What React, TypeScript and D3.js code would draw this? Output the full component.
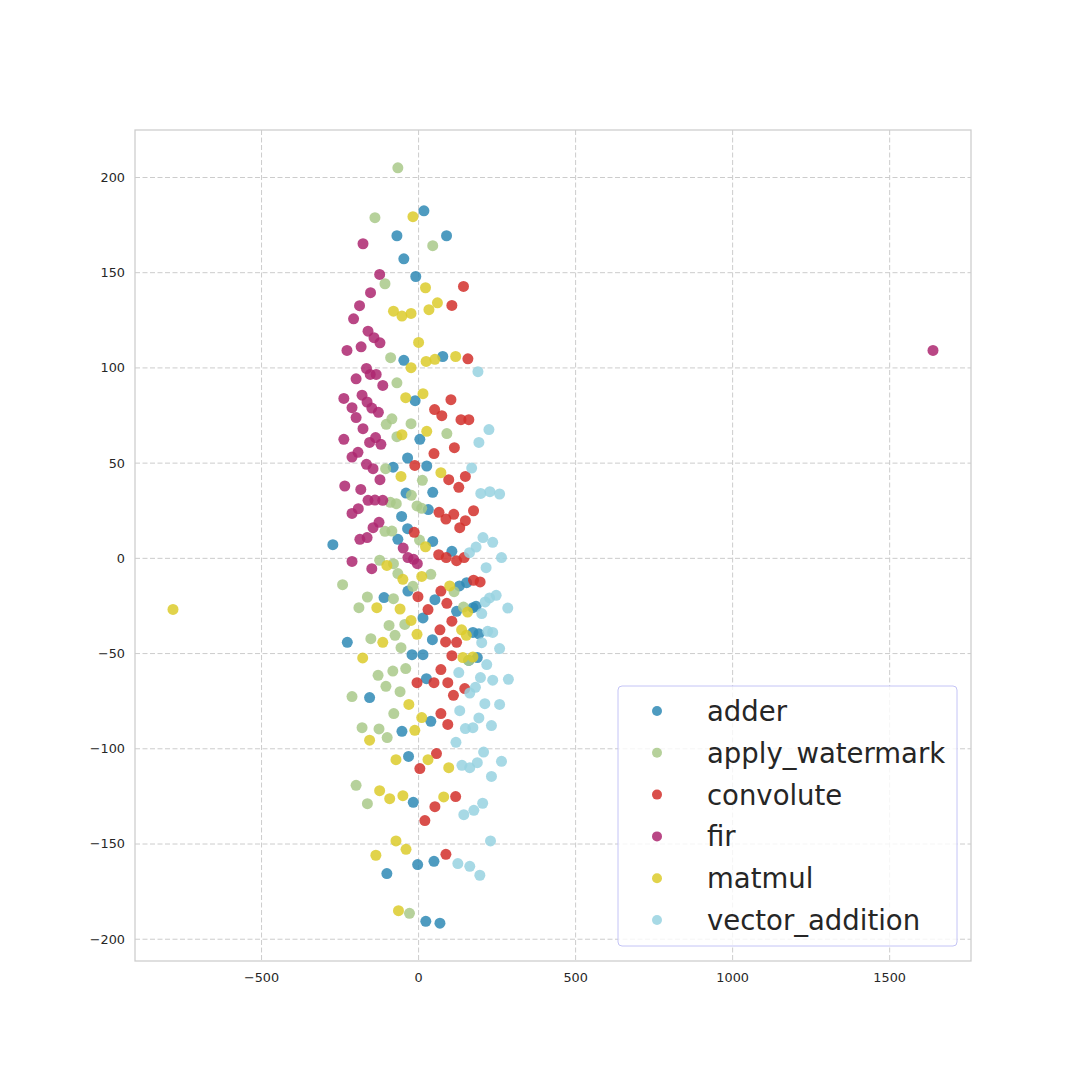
import React from "react";
import * as d3 from "d3";

const categories = ["adder", "apply_watermark", "convolute", "fir", "matmul", "vector_addition"];
const colors = ["#2f8ab5", "#a9c98a", "#d2302c", "#ad2770", "#dccb2c", "#98d2e1"];

const adderX = [17, -69, 89, -47, -9, -47, 77, -11, 4, -35, -81, 26, -40, 45, 31, -54, -35, -66, 45, -273, 106, 130, 153, -34, -110, 52, 173, 183, 121, 14, 173, 192, 44, -227, -21, 14, 160, 187, 25, -156, 39, -53, -32, -17, -3, 49, -101, 23, 68];
const adderY = [182.5, 169.4, 169.4, 157.3, 148, 104, 106, 82.8, 62.5, 52.7, 47.9, 48.5, 34.3, 34.7, 25.6, 22, 15.6, 10, 8.9, 7.2, 3.7, -14.5, -12.8, -17.2, -20.6, -21.7, -25.9, -25.2, -27.8, -31.3, -38.9, -39.6, -42.7, -44.1, -50.6, -50.6, -53.6, -52.1, -63.2, -73.1, -85.6, -90.8, -104, -128.1, -160.8, -159.1, -165.5, -190.6, -191.6];

const waterX = [-66, -139, 45, -107, -89, -69, -85, -103, -24, 90, -69, -105, 12, -23, -90, -71, -5, 10, -107, -85, 3, -124, -80, -66, 39, -242, 113, -18, -163, -80, 143, -190, -44, -94, -75, -152, -56, 159, -129, -82, -41, -104, -59, -212, -79, -180, -126, -100, -199, -163, -29];
const waterY = [205.1, 178.9, 164.2, 144.2, 105.4, 92.2, 73.3, 70.4, 70.7, 65.5, 63.9, 47.1, 41, 33.1, 29.4, 28.7, 27.5, 26.3, 14.2, 14.3, 9.6, -1, -2.8, -8, -8.4, -13.8, -17.5, -14.7, -20.3, -21.2, -25.6, -25.9, -34.7, -35.2, -40.4, -42.2, -46.9, -53.6, -61.4, -59.2, -57.9, -67.2, -70, -72.6, -81.5, -88.9, -89.6, -94.1, -119.2, -128.8, -186.4];

const convX = [143, 106, 157, 103, 51, 74, 135, 160, 49, 114, -12, 96, 149, 128, 65, 87, 112, 149, 175, 131, -14, 64, 88, 121, 145, 175, 196, 71, -2, 90, 30, 106, 68, 86, 121, 106, 71, -5, 49, 93, 147, 111, 71, 93, 57, 4, 118, 52, 20, 87];
const convY = [142.8, 132.8, 104.8, 83.3, 78.1, 74.9, 72.8, 72.8, 55, 58.1, 48.8, 41.3, 43, 37.3, 24.2, 20.6, 23.1, 19.8, 25, 16.1, 13.7, 1.9, 0.4, -1.2, 0.4, -11.5, -12.4, -17.2, -20.1, -23.6, -26.9, -33, -37.5, -43.9, -44.1, -51.1, -58.4, -65.3, -65.3, -65.3, -68.4, -71.9, -81.5, -87.2, -102.5, -110.4, -125.1, -130.4, -137.7, -155.4];

const firX = [-177, -124, -153, -188, -207, -161, -142, -123, -228, -183, -166, -154, -135, -199, -114, -238, -180, -164, -149, -128, -212, -199, -177, -238, -156, -137, -120, -193, -212, -166, -145, -235, -184, -123, -161, -139, -114, -212, -192, -126, -145, -164, -187, -49, -34, -16, -4, -212, -149, 1638];
const firY = [165.2, 149.1, 139.5, 132.7, 125.8, 119.3, 115.9, 113.2, 109.2, 111.1, 99.7, 96.6, 96.6, 94.3, 90.8, 84, 85.7, 82.1, 78.9, 76.7, 79.1, 73.9, 68.1, 62.5, 60.9, 63.4, 59.9, 55.7, 53.2, 49.4, 47.1, 38, 36.2, 41.3, 30.5, 30.6, 30.5, 23.6, 26.1, 18.9, 16.1, 10.9, 10, 5.4, 0.4, -0.5, -2.8, -1.6, -5.4, 109.2];

const matX = [-18, 22, 60, -80, -53, -24, 33, 0, 24, 52, 118, -24, -41, 14, 26, -53, -56, 71, 22, -101, -50, 10, 99, 156, -133, -59, -24, 137, 152, -5, -114, -178, 141, 173, -31, 10, -12, -156, -72, 30, 96, -124, -92, -50, 80, -72, -40, -136, -64, -782];
const matY = [179.4, 142.1, 134.2, 129.8, 127.2, 128.6, 130.6, 113.4, 103.4, 104.5, 106, 100.1, 84.4, 86.5, 66.7, 64.9, 43, 45, 6.1, -3.7, -11, -9.5, -14.5, -28.2, -25.9, -26.6, -32.6, -37.5, -40.4, -39.9, -44.1, -52.3, -52.1, -51.8, -76.7, -83.6, -90.3, -95.5, -105.7, -105.7, -109.9, -122, -126.2, -124.6, -125.3, -148.4, -152.8, -155.9, -185, -26.8];

const vecX = [189, 224, 192, 169, 198, 227, 258, 205, 236, 183, 162, 264, 215, 247, 226, 212, 201, 284, 220, 236, 201, 258, 217, 128, 197, 236, 286, 181, 163, 211, 258, 131, 192, 232, 149, 173, 119, 207, 138, 163, 187, 264, 232, 204, 176, 144, 229, 125, 163, 195];
const vecY = [98, 67.6, 60.9, 47.4, 34.1, 35, 33.8, 10.9, 8.4, 5.9, 3, 0.4, -4.9, -19.4, -20.8, -22.9, -29, -26.1, -38.3, -38.9, -44.3, -47.4, -55.8, -60, -62.6, -64, -63.5, -67.7, -70.7, -76.3, -76.7, -80, -83.8, -87.8, -89.4, -88.9, -96.6, -101.7, -108.7, -109.9, -107.3, -106.6, -114.5, -128.6, -132.3, -134.6, -148.4, -160.3, -161.7, -166.4];

const seriesX = [adderX, waterX, convX, firX, matX, vecX];
const seriesY = [adderY, waterY, convY, firY, matY, vecY];

const xTicks = [-500, 0, 500, 1000, 1500];
const yTicks = [-200, -150, -100, -50, 0, 50, 100, 150, 200];

const W = 1080, H = 1080;
const L = 135, R = 971, T = 130, B = 961;

function fmt(v: number) {
  return v < 0 ? "\u2212" + Math.abs(v) : String(v);
}

export default function App() {
  const allX = seriesX.flat();
  const allY = seriesY.flat();
  const [x0, x1] = d3.extent(allX) as [number, number];
  const [y0, y1] = d3.extent(allY) as [number, number];
  const px = (x1 - x0) * 0.05;
  const py = (y1 - y0) * 0.05;
  const x = d3.scaleLinear().domain([x0 - px, x1 + px]).range([L, R]);
  const y = d3.scaleLinear().domain([y0 - py, y1 + py]).range([B, T]);
  const font = "DejaVu Sans, sans-serif";
  const text = "#262626";
  const legX = 618, legY = 686, legW = 339, legH = 260;
  const rowH = 41.8;
  const dash = "5,2.5";

  return (
    <svg width={W} height={H} style={{ position: "absolute", left: 0, top: 0, background: "#fff" }}>
      <rect x={0} y={0} width={W} height={H} fill="#fff" />
      {xTicks.map((t) => (
        <line key={"gx" + t} x1={x(t)} x2={x(t)} y1={T} y2={B} stroke="#cccccc" strokeWidth={1} strokeDasharray={dash} />
      ))}
      {yTicks.map((t) => (
        <line key={"gy" + t} x1={L} x2={R} y1={y(t)} y2={y(t)} stroke="#cccccc" strokeWidth={1} strokeDasharray={dash} />
      ))}
      {seriesX.map((xs, si) => (
        <g key={categories[si]} fill={colors[si]} fillOpacity={0.85}>
          {xs.map((v, i) => (
            <circle key={i} cx={x(v)} cy={y(seriesY[si][i])} r={5.5} />
          ))}
        </g>
      ))}
      <rect x={L} y={T} width={R - L} height={B - T} fill="none" stroke="#cccccc" strokeWidth={1.25} />
      {xTicks.map((t) => (
        <text key={"tx" + t} x={x(t)} y={982} textAnchor="middle" fontFamily={font} fontSize={12.8} fill={text}>{fmt(t)}</text>
      ))}
      {yTicks.map((t) => (
        <text key={"ty" + t} x={125} y={y(t)} dy="0.35em" textAnchor="end" fontFamily={font} fontSize={12.8} fill={text}>{fmt(t)}</text>
      ))}
      <rect x={legX} y={legY} width={legW} height={legH} rx={4} fill="#fff" fillOpacity={0.8} stroke="#c4c4f6" strokeWidth={1} />
      {categories.map((c, i) => (
        <g key={"leg" + c}>
          <circle cx={657} cy={711 + i * rowH} r={5} fill={colors[i]} fillOpacity={0.85} />
          <text x={707} y={711 + i * rowH} dy="0.36em" fontFamily={font} fontSize={27.5} fill={text}>{c}</text>
        </g>
      ))}
    </svg>
  );
}
